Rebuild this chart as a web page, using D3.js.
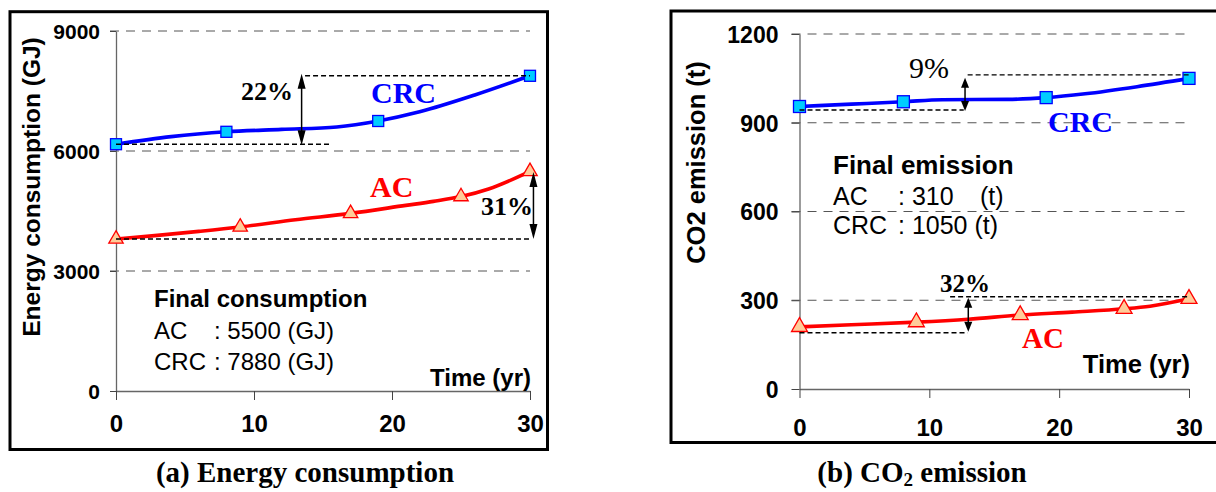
<!DOCTYPE html>
<html><head><meta charset="utf-8">
<script src="https://cdn.jsdelivr.net/npm/d3@7"></script>
<style>body{margin:0;background:#fff} svg{display:block}</style>
</head><body>
<svg id="c" width="1216" height="492"></svg>
<script>
// ---- data ----
const xTicks = [0, 10, 20, 30];
const energyTicks = [0, 3000, 6000, 9000];
const co2Ticks = [0, 300, 600, 900, 1200];

const crcEnergyYears = [0, 4, 8, 12, 16, 19, 22, 26, 30];
const crcEnergy      = [6170, 6360, 6480, 6540, 6600, 6750, 6980, 7400, 7880];
const crcEnergyMarkerYears = [0, 8, 19, 30];

const acEnergyYears = [0, 3, 6, 9, 13, 17, 21, 23, 25, 27, 30];
const acEnergy      = [3800, 3890, 3990, 4100, 4280, 4440, 4640, 4740, 4860, 5050, 5490];
const acEnergyMarkerYears = [0, 9, 17, 25, 30];

const crcCO2Years = [0, 4, 8, 11, 16, 19, 22, 26, 30];
const crcCO2      = [955, 963, 971, 978, 979, 985, 998, 1022, 1050];
const crcCO2MarkerYears = [0, 8, 19, 30];

const acCO2Years = [0, 4, 9, 13, 17, 21, 25, 27, 30];
const acCO2      = [210, 217, 226, 236, 250, 260, 271, 280, 305];
const acCO2MarkerYears = [0, 9, 17, 25, 30];

const SANS = "'Liberation Sans', Arial, sans-serif";
const SERIF = "'Liberation Serif', 'Times New Roman', serif";
const BLUE = "#0000ff", CYAN = "#00ccff", RED = "#ff0000", PEACH = "#ffcc99";

const svg = d3.select("#c");
svg.append("rect").attr("width", 1216).attr("height", 492).attr("fill", "#fff");

function zip(xs, ys) { return xs.map((v, i) => [v, ys[i]]); }

function txt(g, x, y, s, fs, opts = {}) {
  const t = g.append("text").attr("x", x).attr("y", y)
    .style("font-family", opts.serif ? SERIF : SANS)
    .style("font-size", fs + "px")
    .style("font-weight", opts.bold ? "bold" : "normal")
    .attr("fill", opts.fill || "#000");
  if (opts.anchor) t.attr("text-anchor", opts.anchor);
  if (s !== null) t.text(s);
  return t;
}

function arrow(g, x, y1, y2, hw, hl) {
  g.append("line").attr("x1", x).attr("x2", x).attr("y1", y1 + hl - 1).attr("y2", y2 - hl + 1)
    .attr("stroke", "#000").attr("stroke-width", 1.5);
  g.append("path").attr("d", `M${x},${y1}L${x - hw / 2},${y1 + hl}L${x + hw / 2},${y1 + hl}Z`).attr("fill", "#000");
  g.append("path").attr("d", `M${x},${y2}L${x - hw / 2},${y2 - hl}L${x + hw / 2},${y2 - hl}Z`).attr("fill", "#000");
}
function dashed(g, x1, x2, y) {
  g.append("line").attr("x1", x1).attr("x2", x2).attr("y1", y).attr("y2", y)
    .attr("stroke", "#000").attr("stroke-width", 1.4).attr("stroke-dasharray", "5,3");
}

function panel(o) {
  const g = svg.append("g");
  const x = d3.scaleLinear().domain([0, 30]).range(o.xr);
  const y = d3.scaleLinear().domain([0, o.ymax]).range(o.yr);

  g.append("rect").attr("x", o.frame[0]).attr("y", o.frame[1])
    .attr("width", o.frame[2] - o.frame[0]).attr("height", o.frame[3] - o.frame[1])
    .attr("fill", "none").attr("stroke", "#000").attr("stroke-width", 3);

  g.selectAll(".grid").data(o.yTicks.filter(v => v > 0)).join("line")
    .attr("x1", x(0) - o.tick).attr("x2", x(30))
    .attr("y1", d => y(d)).attr("y2", d => y(d))
    .attr("stroke", "#555").attr("stroke-width", 1).attr("stroke-dasharray", "9,7");

  const ya = g.append("g").attr("transform", `translate(${x(0)},0)`)
    .call(d3.axisLeft(y).tickValues(o.yTicks).tickSize(o.tick).tickSizeOuter(0).tickPadding(o.ypad).tickFormat(d3.format("d")));
  ya.attr("font-size", null).attr("font-family", null);
  ya.select(".domain").attr("stroke", "#666").attr("stroke-width", 1.3);
  ya.selectAll(".tick line").attr("stroke", "#444");
  ya.selectAll("text").style("font-family", SANS).style("font-weight", "bold")
    .style("font-size", o.yTickFs + "px").attr("fill", "#000").attr("dy", "0.36em");

  const xa = g.append("g").attr("transform", `translate(0,${y(0)})`)
    .call(d3.axisBottom(x).tickValues(xTicks).tickSize(9).tickSizeOuter(0).tickPadding(o.xpad));
  xa.attr("font-size", null).attr("font-family", null);
  xa.select(".domain").attr("stroke", "#666").attr("stroke-width", 1.3);
  xa.selectAll(".tick line").attr("stroke", "#444");
  xa.selectAll("text").style("font-family", SANS).style("font-weight", "bold")
    .style("font-size", o.xTickFs + "px").attr("fill", "#000");

  const line = d3.line().x(d => x(d[0])).y(d => y(d[1])).curve(d3.curveMonotoneX);
  const crc = zip(o.crcYears, o.crc), ac = zip(o.acYears, o.ac);
  g.append("path").datum(crc).attr("d", line).attr("fill", "none").attr("stroke", BLUE).attr("stroke-width", 3.6).attr("stroke-linejoin", "round");
  g.append("path").datum(ac).attr("d", line).attr("fill", "none").attr("stroke", RED).attr("stroke-width", 3.6).attr("stroke-linejoin", "round");

  const sq = o.sq;
  g.selectAll(".sq").data(crc.filter(d => o.crcMarkers.includes(d[0]))).join("rect")
    .attr("x", d => x(d[0]) - sq / 2).attr("y", d => y(d[1]) - sq / 2).attr("width", sq).attr("height", sq)
    .attr("fill", CYAN).attr("stroke", BLUE).attr("stroke-width", 1.3);
  const tri = d3.symbol(d3.symbolTriangle, o.triArea);
  g.selectAll(".tri").data(ac.filter(d => o.acMarkers.includes(d[0]))).join("path")
    .attr("transform", d => `translate(${x(d[0])},${y(d[1])})`).attr("d", tri)
    .attr("fill", PEACH).attr("stroke", RED).attr("stroke-width", 1.3);

  txt(g, 0, 0, o.ylab, o.ylabFs, { bold: true, anchor: "middle" })
    .attr("transform", `translate(${o.ylabX},${o.ylabY}) rotate(-90)`);
  txt(g, x(30) + 1, o.timeY, "Time (yr)", o.timeFs, { bold: true, anchor: "end" });
  return { g, x, y };
}

// ---------- panel (a) ----------
const A = panel({
  xr: [116, 530], yr: [391, 31], ymax: 9000, yTicks: energyTicks,
  frame: [10, 11.7, 547.5, 449.5], tick: 6, ypad: 10, xpad: 15, yTickFs: 21, xTickFs: 24,
  crcYears: crcEnergyYears, crc: crcEnergy, crcMarkers: crcEnergyMarkerYears,
  acYears: acEnergyYears, ac: acEnergy, acMarkers: acEnergyMarkerYears,
  sq: 11, triArea: 90,
  ylab: "Energy consumption (GJ)", ylabX: 40, ylabY: 187, ylabFs: 24.5,
  timeY: 385.5, timeFs: 24
});
{
  const { g, x, y } = A;
  const c0 = y(crcEnergy[0]), c1 = y(crcEnergy[crcEnergy.length - 1]);
  dashed(g, x(0), x(15.6), c0);
  dashed(g, x(13.7), x(30), c1);
  arrow(g, x(13.45), c1 - 2, c0 + 1, 8, 15);
  const a0 = y(acEnergy[0]);
  dashed(g, x(0), x(30), a0);
  arrow(g, x(30.25), y(5500) + 1, a0, 8, 15);
  txt(g, 293, 99.5, "22%", 26, { serif: true, bold: true, anchor: "end" });
  txt(g, 533, 215, "31%", 26, { serif: true, bold: true, anchor: "end" });
  txt(g, 371, 102.5, "CRC", 30, { serif: true, bold: true, fill: BLUE });
  txt(g, 370, 196.5, "AC", 30, { serif: true, bold: true, fill: RED });
  txt(g, 154, 306.5, "Final consumption", 24, { bold: true });
  const t1 = txt(g, 154, 339, null, 24);
  t1.append("tspan").text("AC");
  t1.append("tspan").attr("x", 214).text(": 5500 (GJ)");
  const t2 = txt(g, 154, 370, null, 24);
  t2.append("tspan").text("CRC");
  t2.append("tspan").attr("x", 214).text(": 7880 (GJ)");
}
txt(svg, 305, 482, "(a) Energy consumption", 29, { serif: true, bold: true, anchor: "middle" });

// ---------- panel (b) ----------
const B = panel({
  xr: [799.5, 1189], yr: [389, 34], ymax: 1200, yTicks: co2Ticks,
  frame: [671, 11, 1240, 442.5], tick: 8, ypad: 13, xpad: 21, yTickFs: 23, xTickFs: 24,
  crcYears: crcCO2Years, crc: crcCO2, crcMarkers: crcCO2MarkerYears,
  acYears: acCO2Years, ac: acCO2, acMarkers: acCO2MarkerYears,
  sq: 12, triArea: 110,
  ylab: "CO2 emission (t)", ylabX: 705, ylabY: 162.5, ylabFs: 25.5,
  timeY: 373, timeFs: 25.5
});
{
  const { g, x, y } = B;
  dashed(g, x(0), x(12.65), y(943));
  dashed(g, x(12.95), x(30), y(1062));
  arrow(g, x(12.75), y(1062) + 3, y(943) + 1, 8, 10);
  dashed(g, x(0), x(12.95), y(190));
  dashed(g, x(11.6), x(30), y(312));
  arrow(g, x(13.0), y(312) + 1, y(190) - 1, 8, 10);
  txt(g, 909, 78, "9%", 30, { serif: true });
  txt(g, 940, 291.5, "32%", 25, { serif: true, bold: true });
  txt(g, 1048, 132, "CRC", 30, { serif: true, bold: true, fill: BLUE });
  txt(g, 1022, 348, "AC", 29, { serif: true, bold: true, fill: RED });
  txt(g, 833, 173.5, "Final emission", 26, { bold: true });
  const t1 = txt(g, 833, 205, null, 25);
  t1.append("tspan").text("AC");
  t1.append("tspan").attr("x", 898).text(": 310");
  t1.append("tspan").attr("x", 980).text("(t)");
  const t2 = txt(g, 833, 234, null, 25);
  t2.append("tspan").text("CRC");
  t2.append("tspan").attr("x", 898).text(": 1050 (t)");
}
const tb = txt(svg, 922, 482, null, 29, { serif: true, bold: true, anchor: "middle" });
tb.append("tspan").text("(b) CO");
tb.append("tspan").style("font-size", "19px").attr("dy", 4).text("2");
tb.append("tspan").attr("dy", -4).text(" emission");
</script>
</body></html>
